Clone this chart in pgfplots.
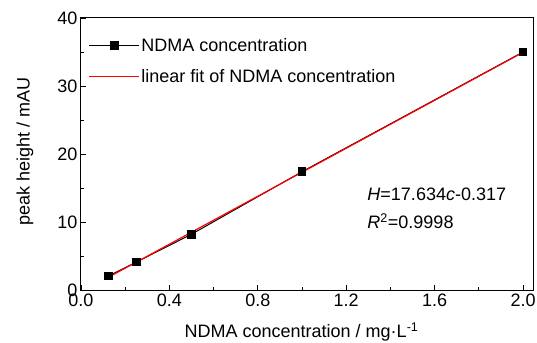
\documentclass[border=0pt]{standalone}
\usepackage{fontspec}
\setmainfont{Liberation Sans}
\usepackage{pgfplots}
\pgfplotsset{compat=1.18}
\begin{document}
\begin{tikzpicture}
\begin{axis}[
  scale only axis, width=452pt, height=272pt,
  xmin=0, xmax=2.045, ymin=0, ymax=40,
  xtick={0,0.4,0.8,1.2,1.6,2.0}, ytick={0,10,20,30,40},
  minor x tick num=1, minor y tick num=1,
  tick align=inside, xtick pos=bottom, ytick pos=left,
  major tick length=5pt, minor tick length=3pt,
  axis line style={line width=1pt}, every tick/.style={line width=0.8pt, black},
  /pgf/number format/assume math mode=true,
  xticklabel style={/pgf/number format/.cd, fixed, fixed zerofill, precision=1},
  ticklabel style={font=\fontsize{18}{20}\selectfont},
  xlabel={NDMA concentration / mg·L\textsuperscript{-1}},
  ylabel={peak height / mAU},
  label style={font=\fontsize{18}{20}\selectfont},
  xlabel style={at={(axis description cs:0.488,-0.154)}, anchor=center},
  ylabel style={at={(axis description cs:-0.124,0.509)}, anchor=center},
  legend style={draw=none, fill=none, at={(axis description cs:0.01,0.94)}, anchor=north west,
    font=\fontsize{18}{20}\selectfont, row sep=12pt, cells={anchor=west},
    nodes={inner xsep=1.5pt}},
  legend image code/.code={\draw[mark repeat=2, mark phase=2, #1] plot coordinates {(0pt,0pt)(25pt,0pt)(50pt,0pt)};},
]
\addplot[black, line width=1pt, mark=square*, mark size=3.8pt, mark options={solid}] coordinates {
  (0.125,2.06) (0.25,4.1) (0.5,8.2) (1.0,17.4) (2.0,35.0)
};
\addlegendentry{NDMA concentration}
\addplot[red, line width=1.2pt] coordinates {(0.125,1.887) (2.0,34.951)};
\addlegendentry{linear fit of NDMA concentration}
\node[anchor=west, font=\fontsize{18}{20}\selectfont] at (axis cs:1.28,14) {\textit{H}=17.634\textit{c}-0.317};
\node[anchor=west, font=\fontsize{18}{20}\selectfont] at (axis cs:1.28,10.1) {\textit{R}\textsuperscript{2}=0.9998};
\end{axis}
\pgfresetboundingbox
\path ([shift={(-81pt,-52pt)}]current axis.south west) rectangle ([shift={(4pt,18pt)}]current axis.north east);
\end{tikzpicture}
\end{document}
